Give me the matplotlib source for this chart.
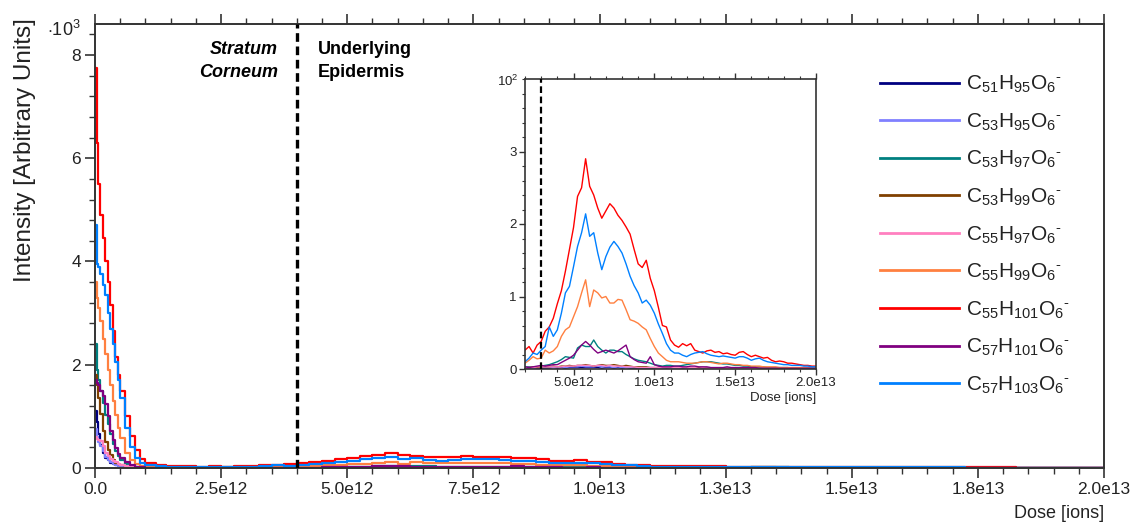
import numpy as np
import matplotlib
matplotlib.use("Agg")
import matplotlib.pyplot as plt
from matplotlib.ticker import MultipleLocator, FixedLocator

plt.rcParams['font.family'] = ['Liberation Sans', 'DejaVu Sans']
plt.rcParams['mathtext.fontset'] = 'custom'
plt.rcParams['mathtext.rm'] = 'Liberation Sans'
plt.rcParams['mathtext.it'] = 'Liberation Sans:italic'
plt.rcParams['mathtext.bf'] = 'Liberation Sans:bold'

# ---------------- data ----------------
# dose in units of 1e12 ions
dose_early = [0, 0.03, 0.06, 0.1, 0.15, 0.2, 0.25, 0.3, 0.35, 0.4, 0.45, 0.5,
              0.6, 0.7, 0.8, 0.9, 1.0, 1.2, 1.4, 1.6, 1.8]
dose_late = list(np.arange(2.0, 20.001, 0.25))
dose = np.array(dose_early + dose_late)

labels = ['C$_{51}$H$_{95}$O$_{6}$$^{\u2010}$', 'C$_{53}$H$_{95}$O$_{6}$$^{\u2010}$',
          'C$_{53}$H$_{97}$O$_{6}$$^{\u2010}$', 'C$_{53}$H$_{99}$O$_{6}$$^{\u2010}$',
          'C$_{55}$H$_{97}$O$_{6}$$^{\u2010}$', 'C$_{55}$H$_{99}$O$_{6}$$^{\u2010}$',
          'C$_{55}$H$_{101}$O$_{6}$$^{\u2010}$', 'C$_{57}$H$_{101}$O$_{6}$$^{\u2010}$',
          'C$_{57}$H$_{103}$O$_{6}$$^{\u2010}$']
colors = ['#000080', '#8080ff', '#008080', '#804000', '#ff80c0',
          '#ff8040', '#ff0000', '#800080', '#0080ff']

# intensities (counts); early part then 2.0..20.0 step 0.25
c51h95 = [1100, 900, 650, 450, 300, 200, 150, 100, 70, 50, 35, 25, 12, 6, 3, 2, 2, 1, 1, 1, 1,
          1, 1, 1, 1, 1, 1, 1, 2,
          1, 2, 1, 2, 2, 2, 2, 2,
          2, 2, 2, 1, 2, 2, 1, 2,
          1, 2, 1, 1, 1, 1, 1, 1,
          1, 1, 1, 1, 1, 1, 1, 1,
          1, 1, 1, 1, 1, 1, 1, 1,
          1, 1, 1, 1, 1, 1, 1, 1,
          1, 1, 1, 1, 1, 1, 1, 1,
          1, 1, 1, 1, 1, 1, 1, 1,
          1]
c53h95 = [750, 600, 500, 420, 320, 220, 160, 120, 80, 60, 45, 30, 15, 8, 4, 3, 2, 2, 2, 2, 2,
          1, 2, 1, 2, 2, 2, 2, 2,
          2, 3, 2, 3, 3, 3, 4, 3,
          3, 3, 4, 3, 3, 3, 2, 3,
          2, 2, 2, 2, 2, 2, 2, 2,
          2, 1, 1, 2, 1, 1, 1, 2,
          1, 1, 1, 1, 1, 1, 1, 1,
          1, 1, 1, 1, 1, 1, 1, 1,
          1, 1, 1, 1, 1, 1, 1, 1,
          1, 1, 1, 1, 1, 1, 1, 1,
          1]
c53h97 = [2400, 1900, 1700, 1500, 1250, 1030, 850, 650, 470, 320, 230, 150, 70, 35, 15, 8, 5, 4, 3, 3, 3,
          3, 3, 2, 3, 4, 5, 6, 8,
          10, 13, 17, 16, 15, 29, 33, 31,
          31, 40, 31, 26, 22, 26, 26, 24,
          24, 20, 17, 14, 12, 11, 10, 8,
          6, 5, 4, 5, 5, 4, 4, 5,
          6, 7, 8, 9, 10, 10, 10, 9,
          8, 7, 7, 6, 5, 5, 4, 4,
          3, 3, 3, 3, 2, 2, 2, 2,
          2, 2, 1, 1, 1, 1, 1, 1,
          1]
c53h99 = [1800, 1600, 1350, 1050, 720, 500, 350, 250, 160, 100, 70, 50, 25, 12, 6, 4, 3, 2, 2, 2, 2,
          2, 2, 3, 2, 3, 3, 3, 4,
          3, 4, 4, 5, 4, 5, 5, 6,
          5, 4, 5, 6, 5, 5, 6, 5,
          4, 5, 4, 3, 3, 3, 3, 2,
          2, 2, 2, 2, 2, 2, 2, 2,
          2, 2, 2, 2, 2, 1, 1, 1,
          1, 1, 1, 1, 1, 1, 1, 1,
          1, 1, 1, 1, 1, 1, 1, 1,
          1, 1, 1, 1, 1, 1, 1, 1,
          1]
c55h97 = [600, 570, 550, 520, 420, 300, 230, 170, 140, 110, 80, 60, 35, 18, 8, 4, 3, 2, 2, 2, 2,
          2, 2, 2, 3, 3, 3, 3, 3,
          3, 3, 4, 4, 4, 5, 5, 5,
          5, 4, 5, 5, 4, 5, 4, 4,
          4, 3, 3, 3, 2, 2, 2, 2,
          2, 2, 2, 2, 2, 2, 2, 2,
          2, 2, 2, 1, 2, 1, 1, 1,
          1, 1, 1, 1, 1, 1, 1, 1,
          1, 1, 1, 1, 1, 1, 1, 1,
          1, 1, 1, 1, 1, 1, 1, 1,
          1]
c55h99 = [3600, 3300, 3100, 2850, 2500, 2200, 1900, 1600, 1300, 1030, 780, 580, 300, 150, 80, 45, 25, 15, 12, 10, 9,
          8, 12, 17, 14, 15, 26, 22, 25,
          31, 45, 54, 58, 72, 86, 105, 123,
          86, 109, 105, 98, 100, 91, 91, 96,
          95, 82, 68, 66, 63, 58, 54, 42,
          31, 22, 17, 12, 10, 10, 10, 9,
          8, 8, 8, 9, 10, 10, 9, 8,
          7, 8, 8, 7, 6, 6, 5, 5,
          4, 4, 4, 3, 3, 3, 3, 2,
          2, 2, 2, 2, 2, 2, 1, 1,
          1]
c55h101 = [7750, 6300, 5500, 4900, 4450, 4000, 3600, 3150, 2650, 2150, 1800, 1500, 1000, 620, 340, 180, 95, 55, 40, 35, 30,
           26, 31, 22, 33, 38, 52, 58, 70,
           90, 108, 135, 165, 195, 238, 250, 290,
           252, 240, 222, 208, 218, 228, 222, 212,
           205, 196, 186, 165, 145, 140, 150, 125,
           108, 85, 60, 58, 40, 33, 30, 35,
           32, 35, 26, 24, 22, 25, 26, 23,
           24, 21, 22, 20, 19, 23, 24, 20,
           17, 19, 17, 15, 16, 12, 10, 11,
           10, 8, 8, 7, 6, 5, 5, 4,
           4]
c57h101 = [1700, 1650, 1600, 1500, 1400, 1230, 1000, 710, 550, 390, 280, 190, 120, 55, 25, 12, 7, 5, 4, 3, 3,
           3, 2, 3, 4, 5, 4, 5, 6,
           6, 9, 12, 15, 19, 26, 33, 38,
           33, 27, 22, 24, 26, 24, 22, 25,
           29, 33, 17, 13, 10, 9, 8, 17,
           6, 4, 3, 3, 3, 4, 4, 3,
           3, 4, 4, 3, 3, 3, 2, 2,
           2, 2, 3, 2, 2, 2, 2, 2,
           2, 2, 1, 1, 1, 1, 1, 1,
           1, 1, 1, 1, 1, 1, 1, 1,
           1]
c57h103 = [4700, 3950, 3900, 3750, 3550, 3350, 3000, 2700, 2400, 2050, 1700, 1350, 780, 400, 200, 100, 60, 35, 25, 20, 15,
           10, 15, 22, 20, 26, 31, 58, 45,
           54, 77, 105, 114, 141, 169, 188, 214,
           183, 188, 160, 137, 155, 168, 176, 169,
           160, 145, 128, 115, 105, 91, 95, 88,
           77, 62, 49, 35, 26, 22, 22, 19,
           17, 20, 22, 23, 24, 21, 19, 18,
           17, 18, 17, 16, 15, 17, 17, 15,
           12, 14, 15, 12, 10, 9, 8, 7,
           6, 6, 5, 5, 5, 4, 4, 3,
           3]
series = [c51h95, c53h95, c53h97, c53h99, c55h97, c55h99, c55h101, c57h101, c57h103]

boundary_main = 4.0     # e12, stratum corneum / epidermis boundary
boundary_inset = 3.0

xticks_main = [0, 2.5, 5.0, 7.5, 10.0, 12.5, 15.0, 17.5, 20.0]
xticklabels_main = ['0.0', '2.5e12', '5.0e12', '7.5e12', '1.0e13', '1.3e13', '1.5e13', '1.8e13', '2.0e13']
xticks_inset = [5, 10, 15, 20]
xticklabels_inset = ['5.0e12', '1.0e13', '1.5e13', '2.0e13']

# ---------------- figure ----------------
W, H = 1140, 524
fig = plt.figure(figsize=(W / 100, H / 100), dpi=100)
fc = '#222222'

def fx(px):
    return px / W

def fy(py):
    return 1 - py / H

ax = fig.add_axes([fx(95), fy(468), fx(1104) - fx(95), fy(24) - fy(468)])
for s, c, lab in zip(series, colors, labels):
    ax.plot(dose, np.array(s) / 1000.0, drawstyle='steps-post', color=c, lw=1.6, label=lab)
ax.axvline(boundary_main, color='black', lw=2.4, linestyle=(0, (2.6, 1.4)), zorder=5)
ax.set_xlim(0, 20)
ax.set_ylim(0, 8.6)
ax.xaxis.set_major_locator(FixedLocator(xticks_main))
ax.set_xticklabels(xticklabels_main)
ax.xaxis.set_minor_locator(MultipleLocator(0.5))
ax.yaxis.set_major_locator(FixedLocator([0, 2, 4, 6, 8]))
ax.yaxis.set_minor_locator(MultipleLocator(0.4))
ax.tick_params(axis='both', which='both', direction='out', colors='#333333', labelcolor=fc)
ax.tick_params(axis='x', which='both', top=True, labeltop=False)
ax.tick_params(which='major', length=7, width=1.2, labelsize=12.5, pad=3)
ax.tick_params(which='minor', length=4.5, width=1.0)
for sp in ax.spines.values():
    sp.set_linewidth(1.4)
    sp.set_color('#333333')

fig.text(fx(64), fy(30), r'$\cdot$10$^{3}$', ha='center', va='center', fontsize=13, color=fc)
fig.text(fx(25), fy(150), 'Intensity [Arbitrary Units]', rotation=90, ha='center', va='center',
         fontsize=17.5, color=fc)
fig.text(fx(1104), fy(513), 'Dose [ions]', ha='right', va='center', fontsize=13, color=fc)

ax.text(3.62, 0.962, 'Stratum\nCorneum', transform=ax.get_xaxis_transform(), ha='right', va='top',
        fontsize=13, fontweight='bold', fontstyle='italic', color='black', linespacing=1.45)
ax.text(4.41, 0.962, 'Underlying\nEpidermis', transform=ax.get_xaxis_transform(), ha='left', va='top',
        fontsize=13, fontweight='bold', color='black', linespacing=1.45)

leg = ax.legend(loc='upper left', bbox_to_anchor=(fx(880), fy(74)), bbox_transform=fig.transFigure,
                frameon=False, fontsize=15, handlelength=3.8, handletextpad=0.33,
                labelspacing=0.78, borderpad=0, borderaxespad=0)
for l in leg.get_lines():
    l.set_linewidth(2.0)
for t in leg.get_texts():
    t.set_color(fc)

# ---------------- inset ----------------
axi = fig.add_axes([fx(525), fy(369), fx(816) - fx(525), fy(79) - fy(369)])
for s, c in zip(series, colors):
    axi.plot(dose, np.array(s) / 100.0, color=c, lw=1.0)
axi.axvline(boundary_inset, color='black', lw=1.6, linestyle=(0, (3, 1.6)), zorder=5)
axi.set_xlim(2, 20)
axi.set_ylim(0, 4)
axi.xaxis.set_major_locator(FixedLocator(xticks_inset))
axi.set_xticklabels(xticklabels_inset)
axi.xaxis.set_minor_locator(MultipleLocator(1))
axi.yaxis.set_major_locator(FixedLocator([0, 1, 2, 3]))
axi.yaxis.set_minor_locator(MultipleLocator(0.2))
axi.tick_params(axis='both', which='both', direction='out', colors='#333333', labelcolor=fc)
axi.tick_params(axis='x', which='both', top=True, labeltop=False)
axi.tick_params(which='major', length=4, width=1.0, labelsize=9.5, pad=2)
axi.tick_params(which='minor', length=2.5, width=0.8)
for sp in axi.spines.values():
    sp.set_linewidth(1.2)
    sp.set_color('#333333')
fig.text(fx(508), fy(81), '10$^{2}$', ha='center', va='center', fontsize=9.5, color=fc)
fig.text(fx(816), fy(398), 'Dose [ions]', ha='right', va='center', fontsize=9.5, color=fc)

fig.savefig('out.png', dpi=100, facecolor='white')
